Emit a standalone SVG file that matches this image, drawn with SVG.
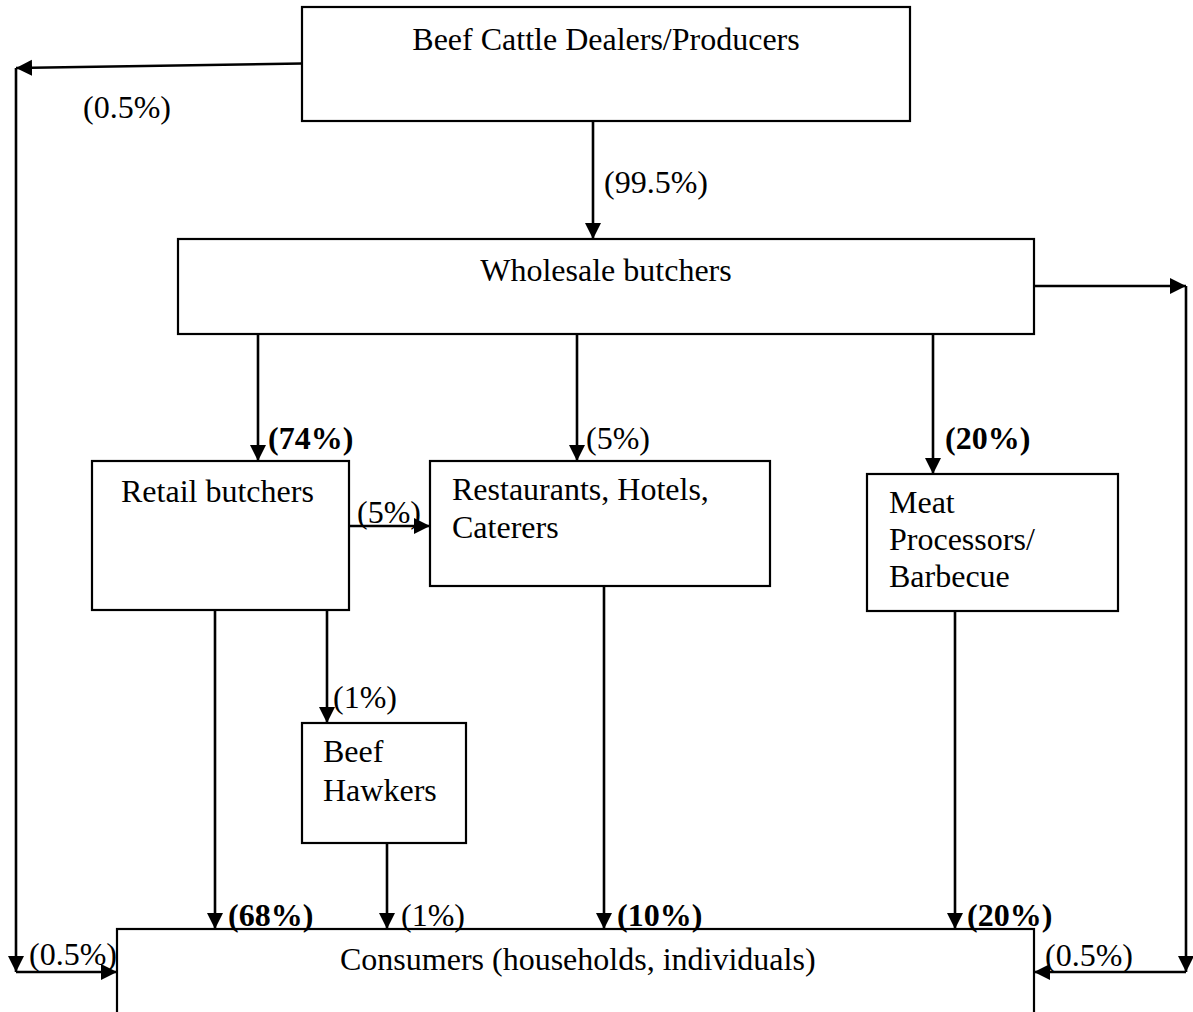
<svg xmlns="http://www.w3.org/2000/svg" width="1193" height="1012" viewBox="0 0 1193 1012">
<style>
  .box { fill: #fff; stroke: #000; stroke-width: 2.2; }
  .t { font-family: "Liberation Serif", "Times New Roman", serif; font-size: 32px; fill: #000; }
  .b { font-weight: bold; }
  .c { stroke: #000; stroke-width: 2.6; fill: none; marker-end: url(#ah); }
</style>
<defs>
  <marker id="ah" markerUnits="userSpaceOnUse" markerWidth="17" markerHeight="18" refX="16" refY="9" orient="auto" viewBox="0 0 17 18">
    <path d="M0,1 L16,9 L0,17 z" fill="#000"/>
  </marker>
</defs>
<rect width="1193" height="1012" fill="#fff"/>

<g id="producers">
  <rect class="box" x="302" y="7" width="608" height="114"/>
  <text class="t" x="606" y="50" text-anchor="middle">Beef Cattle Dealers/Producers</text>
</g>
<g id="wholesale">
  <rect class="box" x="178" y="239" width="856" height="95"/>
  <text class="t" x="606" y="281" text-anchor="middle">Wholesale butchers</text>
</g>
<g id="retail">
  <rect class="box" x="92" y="461" width="257" height="149"/>
  <text class="t" x="121" y="502">Retail butchers</text>
</g>
<g id="restaurants">
  <rect class="box" x="430" y="461" width="340" height="125"/>
  <text class="t" x="452" y="500">Restaurants, Hotels,</text>
  <text class="t" x="452" y="538">Caterers</text>
</g>
<g id="processors">
  <rect class="box" x="867" y="474" width="251" height="137"/>
  <text class="t" x="889" y="513">Meat</text>
  <text class="t" x="889" y="550">Processors/</text>
  <text class="t" x="889" y="587">Barbecue</text>
</g>
<g id="hawkers">
  <rect class="box" x="302" y="723" width="164" height="120"/>
  <text class="t" x="323" y="762">Beef</text>
  <text class="t" x="323" y="801">Hawkers</text>
</g>
<g id="consumers">
  <rect class="box" x="117" y="929" width="917" height="100"/>
  <text class="t" x="340" y="970">Consumers (households, individuals)</text>
</g>

<g id="connectors">
  <path class="c" d="M302,63.5 L16,68"/>
  <path class="c" d="M16,68 L16,972"/>
  <path class="c" d="M16,972 L117,972"/>
  <path class="c" d="M593,121 L593,239"/>
  <path class="c" d="M1034,286 L1186,286"/>
  <path class="c" d="M1186,286 L1186,972"/>
  <path class="c" d="M1186,972 L1034,972"/>
  <path class="c" d="M258,334 L258,461"/>
  <path class="c" d="M577,334 L577,461"/>
  <path class="c" d="M933,334 L933,474"/>
  <path class="c" d="M349,526 L430,526"/>
  <path class="c" d="M215,610 L215,929"/>
  <path class="c" d="M327,610 L327,723"/>
  <path class="c" d="M387,843 L387,929"/>
  <path class="c" d="M604,586 L604,929"/>
  <path class="c" d="M955,611 L955,929"/>
</g>

<g id="labels">
  <text class="t" x="83" y="118">(0.5%)</text>
  <text class="t" x="604" y="193">(99.5%)</text>
  <text class="t b" x="268" y="449">(74%)</text>
  <text class="t" x="586" y="449">(5%)</text>
  <text class="t b" x="945" y="449">(20%)</text>
  <text class="t" x="357" y="523">(5%)</text>
  <text class="t" x="333" y="708">(1%)</text>
  <text class="t b" x="228" y="926">(68%)</text>
  <text class="t" x="401" y="926">(1%)</text>
  <text class="t b" x="617" y="926">(10%)</text>
  <text class="t b" x="967" y="926">(20%)</text>
  <text class="t" x="29" y="965">(0.5%)</text>
  <text class="t" x="1045" y="966">(0.5%)</text>
</g>
</svg>
